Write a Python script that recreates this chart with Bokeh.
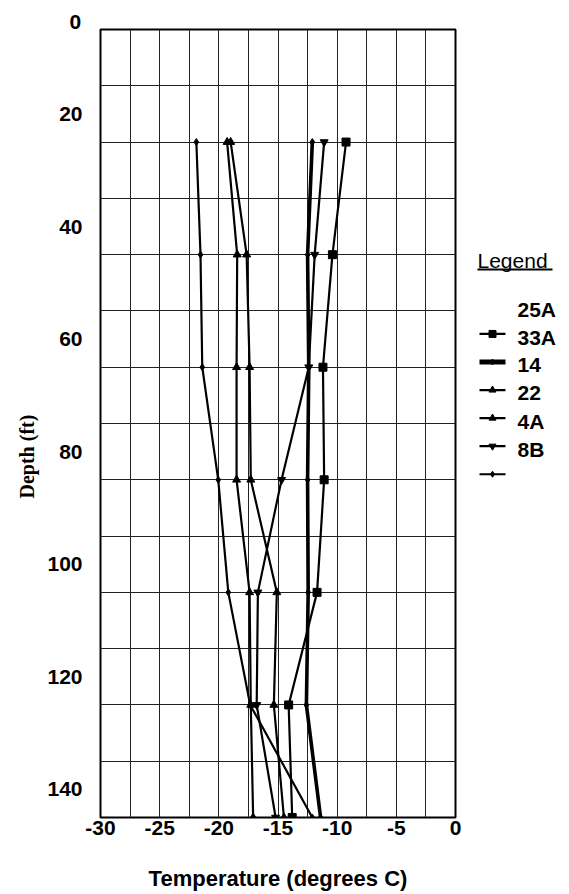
from bokeh.plotting import figure
from bokeh.layouts import row
from bokeh.models import Range1d, FixedTicker, Title, ColumnDataSource, NumeralTickFormatter
from bokeh.core.properties import value
from bokeh.embed import file_html
from bokeh.resources import INLINE

# ---- data ----
depths = [25, 45, 65, 85, 105, 125, 145]
names = ["25A", "33A", "14", "22", "4A", "8B"]
t_25A = [-9.25, -10.4, -11.2, -11.1, -11.7, -14.1, -13.8]
t_33A = [-12.1, -12.5, -12.4, -12.5, -12.45, -12.6, -11.4]
t_14 = [-19.3, -18.45, -18.5, -18.5, -17.4, -17.3, -17.1]
t_22 = [-19.0, -17.65, -17.4, -17.3, -15.1, -15.35, -14.5]
t_4A = [-11.1, -11.9, -12.4, -14.7, -16.7, -16.8, -15.2]
t_8B = [-21.9, -21.55, -21.4, -20.05, -19.2, -17.35, -12.1]
series = [t_25A, t_33A, t_14, t_22, t_4A, t_8B]
markers = ["square", "diamond", "triangle", "triangle", "inverted_triangle", "diamond"]
marker_sizes = [8, 7, 8, 8, 8, 7]
line_widths = [2.2, 3.6, 2.2, 2.2, 2.2, 2.2]

x_ticks = [-30, -25, -20, -15, -10, -5, 0]
x_grid = [-27.5, -25, -22.5, -20, -17.5, -15, -12.5, -10, -7.5, -5, -2.5]
y_ticks = [20, 40, 60, 80, 100, 120, 140]
y_grid = [15, 25, 35, 45, 55, 65, 75, 85, 95, 105, 115, 125, 135]

FONT = "Liberation Sans"

p = figure(width=473, height=893, output_backend="svg", toolbar_location=None,
           x_range=Range1d(-30, 0), y_range=Range1d(145, 5),
           min_border_left=100, min_border_right=18, min_border_top=29, min_border_bottom=71)
p.outline_line_color = "black"
p.outline_line_width = 2
p.background_fill_color = "white"

p.xaxis.ticker = FixedTicker(ticks=x_ticks)
p.yaxis.ticker = FixedTicker(ticks=y_ticks)
p.xaxis.formatter = NumeralTickFormatter(format="0")
p.yaxis.formatter = NumeralTickFormatter(format="0")
p.xgrid.ticker = FixedTicker(ticks=x_grid)
p.ygrid.ticker = FixedTicker(ticks=y_grid)
for g in (p.xgrid, p.ygrid):
    g.grid_line_color = "#222222"
    g.grid_line_width = 1
    g.grid_line_alpha = 1

for ax in (p.xaxis, p.yaxis):
    ax.axis_line_color = None
    ax.major_tick_out = 0
    ax.major_tick_in = 0
    ax.minor_tick_out = 0
    ax.minor_tick_in = 0
    ax.major_label_text_font = FONT
    ax.major_label_text_font_style = "bold"
    ax.major_label_text_font_size = "21px"
    ax.major_label_text_color = "black"
p.yaxis.major_label_standoff = 18
p.xaxis.major_label_standoff = 3

p.xaxis.axis_label = "Temperature (degrees C)"
p.xaxis.axis_label_text_font = FONT
p.xaxis.axis_label_text_font_style = "bold"
p.xaxis.axis_label_text_font_size = "22px"
p.xaxis.axis_label_text_color = "black"
p.xaxis.axis_label_standoff = 28

# "0" tick label above the frame (top end of the depth axis)
p.add_layout(Title(text="0", align="left", offset=-31, standoff=1,
                   text_font=FONT, text_font_style="bold", text_font_size="21px",
                   text_color="black"), "above")
# y axis title
p.add_layout(Title(text="Depth (ft)", align="left", offset=319, standoff=13,
                   text_font="Liberation Serif", text_font_style="bold",
                   text_font_size="20px", text_color="black"), "left")

for name, temps, mk, ms, lw in zip(names, series, markers, marker_sizes, line_widths):
    src = ColumnDataSource(dict(t=temps, d=depths))
    p.line("t", "d", source=src, line_color="black", line_width=lw)
    p.scatter("t", "d", source=src, marker=mk, size=ms, fill_color="black", line_color="black")

# ---- legend panel ----
LW, LH = 92, 893
q = figure(width=LW, height=LH, output_backend="svg", toolbar_location=None,
           x_range=Range1d(0, LW), y_range=Range1d(LH, 0),
           min_border=0, min_border_left=0, min_border_right=0,
           min_border_top=0, min_border_bottom=0)
q.axis.visible = False
q.grid.visible = False
q.outline_line_color = None

q.text(x=[4], y=[262], text=["Legend"], text_font=value(FONT), text_font_size="21px",
       text_baseline="middle", text_align="left", text_color="black")
q.segment(x0=[4], y0=[272], x1=[79], y1=[272], line_color="black", line_width=2)

n = len(names)
label_y = [317 + 31.75 * i for i in range(n)]
sym_y = [345 + 31.8 * i for i in range(n)]
q.text(x=[44] * n, y=label_y, text=names, text_font=value(FONT), text_font_style="bold",
       text_font_size="21px", text_baseline="middle", text_align="left", text_color="black")
for i in range(n):
    q.segment(x0=[6], y0=[sym_y[i]], x1=[32], y1=[sym_y[i]], line_color="black",
              line_width=line_widths[i] + (1.4 if line_widths[i] > 3 else 0))
    q.scatter(x=[19], y=[sym_y[i]], marker=markers[i], size=marker_sizes[i] - 1,
              fill_color="black", line_color="black")

layout = row(p, q)
open("out.html", "w").write(file_html(layout, INLINE))
